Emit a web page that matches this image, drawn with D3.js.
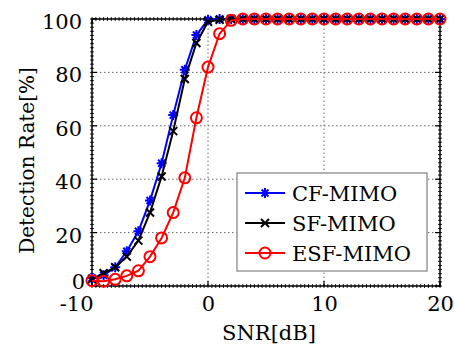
<!DOCTYPE html>
<html>
<head>
<meta charset="utf-8">
<script src="https://cdn.jsdelivr.net/npm/d3@7"></script>
<style>
  body { margin: 0; background: #fff; }
</style>
</head>
<body>
<script>
// values
let snr = d3.range(-10, 21, 1);
let cfMimo  = [3, 4, 7, 13, 20.5, 32, 46, 64, 81, 94, 99.7].concat(d3.range(20).map(() => 100));
let sfMimo  = [2.5, 4.8, 7, 11, 17, 27.5, 41, 58, 77.5, 91, 99, 99.7].concat(d3.range(19).map(() => 100));
let esfMimo = [2, 1.8, 2.5, 3.8, 5.7, 11, 18, 27.5, 40.5, 63, 82, 94.5, 99.5].concat(d3.range(18).map(() => 100));
let xTicks = [-10, 0, 10, 20];
let yTicks = [0, 20, 40, 60, 80, 100];
let seriesNames = ["CF-MIMO", "SF-MIMO", "ESF-MIMO"];

let width = 454, height = 349;
let margin = {top: 19, right: 14, bottom: 63, left: 92};
let serif = "DejaVu Serif";

let svg = d3.select("body").append("svg")
    .attr("width", width)
    .attr("height", height)
    .style("font-family", serif);

let x = d3.scaleLinear([-10, 20], [margin.left, width - margin.right]);
let y = d3.scaleLinear([0, 100], [height - margin.bottom, margin.top]);

// dotted grid
let grid = svg.append("g")
    .attr("stroke", "#666")
    .attr("stroke-width", 1)
    .attr("stroke-dasharray", "1.5,2.5");
grid.selectAll("line.v")
    .data(xTicks.filter(d => d > -10 && d < 20))
    .join("line")
      .attr("x1", d => x(d)).attr("x2", d => x(d))
      .attr("y1", y(0)).attr("y2", y(100));
grid.selectAll("line.h")
    .data(yTicks.filter(d => d > 0 && d < 100))
    .join("line")
      .attr("y1", d => y(d)).attr("y2", d => y(d))
      .attr("x1", x(-10)).attr("x2", x(20));

// minor ticks crossing the box edges
let xMinor = d3.range(-10, 20.001, 1 / 3);
let yMinor = d3.range(0, 100.001, 100 / 65);
let ticks = svg.append("g").attr("stroke", "#222").attr("stroke-width", 1);
[y(0), y(100)].forEach(yy => {
    ticks.append("g").selectAll("line")
        .data(xMinor)
        .join("line")
          .attr("x1", d => x(d)).attr("x2", d => x(d))
          .attr("y1", yy - 2).attr("y2", yy + 2);
});
[x(-10), x(20)].forEach(xx => {
    ticks.append("g").selectAll("line")
        .data(yMinor)
        .join("line")
          .attr("y1", d => y(d)).attr("y2", d => y(d))
          .attr("x1", xx - 2).attr("x2", xx + 2);
});

// major ticks, inward
svg.append("g").attr("stroke", "#000").attr("stroke-width", 1.2)
    .call(g => g.append("g").selectAll("line").data(xTicks).join("line")
        .attr("x1", d => x(d)).attr("x2", d => x(d))
        .attr("y1", y(0)).attr("y2", y(0) - 5))
    .call(g => g.append("g").selectAll("line").data(xTicks).join("line")
        .attr("x1", d => x(d)).attr("x2", d => x(d))
        .attr("y1", y(100)).attr("y2", y(100) + 5))
    .call(g => g.append("g").selectAll("line").data(yTicks).join("line")
        .attr("y1", d => y(d)).attr("y2", d => y(d))
        .attr("x1", x(-10)).attr("x2", x(-10) + 5))
    .call(g => g.append("g").selectAll("line").data(yTicks).join("line")
        .attr("y1", d => y(d)).attr("y2", d => y(d))
        .attr("x1", x(20)).attr("x2", x(20) - 5));

// box
svg.append("rect")
    .attr("x", x(-10)).attr("y", y(100))
    .attr("width", x(20) - x(-10)).attr("height", y(0) - y(100))
    .attr("fill", "none").attr("stroke", "#000").attr("stroke-width", 1.5);

// axis labels via d3 axes
let xAxis = svg.append("g")
    .attr("transform", `translate(0,${y(0)})`)
    .call(d3.axisBottom(x).tickValues(xTicks).tickFormat(d => String(d)).tickSize(0).tickPadding(10))
    .call(g => g.select(".domain").remove())
    .attr("font-family", serif);
xAxis.selectAll("text")
    .attr("font-size", 21).attr("fill", "#000")
    .attr("dy", "0.71em");
xAxis.selectAll(".tick").filter(d => d === -10).select("text")
    .attr("text-anchor", "end").attr("x", 1);

let yAxis = svg.append("g")
    .attr("transform", `translate(${x(-10)},0)`)
    .call(d3.axisLeft(y).tickValues(yTicks).tickFormat(d => String(d)).tickSize(0).tickPadding(10))
    .call(g => g.select(".domain").remove())
    .attr("font-family", serif);
yAxis.selectAll("text")
    .attr("font-size", 21).attr("fill", "#000")
    .attr("dy", "0.45em");
// the zero label sits a bit higher, clear of "-10"
yAxis.selectAll(".tick").filter(d => d === 0).select("text").attr("dy", "0.1em").attr("x", -7);

svg.append("text")
    .attr("x", (x(-10) + x(20)) / 2 + 3)
    .attr("y", 340)
    .attr("text-anchor", "middle")
    .attr("font-size", 21)
    .text("SNR[dB]");

svg.append("text")
    .attr("transform", `translate(34,${(y(0) + y(100)) / 2 + 8}) rotate(-90)`)
    .attr("text-anchor", "middle")
    .attr("font-size", 20)
    .text("Detection Rate[%]");

// markers
function star(g, s) {
    let d = s * 0.7;
    g.append("path").attr("d",
        `M${-s},0L${s},0M0,${-s}L0,${s}M${-d},${-d}L${d},${d}M${-d},${d}L${d},${-d}`);
}
function cross(g, s) {
    g.append("path").attr("d", `M${-s},${-s}L${s},${s}M${-s},${s}L${s},${-s}`);
}
function ring(g, s) {
    g.append("circle").attr("r", s).attr("fill", "none");
}

let series = [
    {name: seriesNames[0], values: cfMimo, color: "#0000ff", marker: g => star(g, 5)},
    {name: seriesNames[1], values: sfMimo, color: "#000000", marker: g => cross(g, 4)},
    {name: seriesNames[2], values: esfMimo, color: "#ff0000", marker: g => ring(g, 5.5)}
];

let line = d3.line().x((d, i) => x(snr[i])).y(d => y(d));

series.forEach(s => {
    let g = svg.append("g").attr("stroke", s.color).attr("stroke-width", 2).attr("fill", "none");
    g.append("path").attr("d", line(s.values));
    g.selectAll("g")
        .data(s.values)
        .join("g")
          .attr("transform", (d, i) => `translate(${x(snr[i])},${y(d)})`)
          .each(function() { s.marker(d3.select(this)); });
});

// legend
let legend = svg.append("g").attr("transform", "translate(237,173)");
legend.append("rect")
    .attr("width", 190).attr("height", 98)
    .attr("fill", "#fff").attr("stroke", "#999").attr("stroke-width", 1.5);
series.forEach((s, i) => {
    let row = legend.append("g").attr("transform", `translate(0,${20 + i * 30})`);
    row.append("line")
        .attr("x1", 8).attr("x2", 48)
        .attr("stroke", s.color).attr("stroke-width", 2);
    let m = row.append("g").attr("transform", "translate(28,0)")
        .attr("stroke", s.color).attr("stroke-width", 2).attr("fill", "none");
    s.marker(m);
    row.append("text")
        .attr("x", 55).attr("y", 8)
        .attr("font-size", 21)
        .text(s.name);
});
</script>
</body>
</html>
